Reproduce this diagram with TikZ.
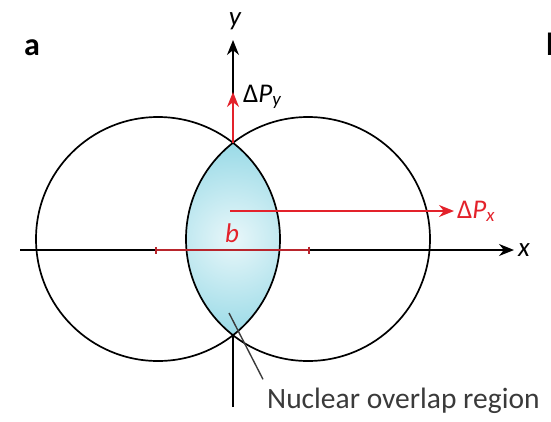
\documentclass[tikz,border=0pt]{standalone}
\usepackage{fontspec}
\setmainfont{Carlito}
\usetikzlibrary{arrows.meta,positioning}
\definecolor{nucred}{HTML}{E3222B}
\definecolor{nucdark}{HTML}{B8252C}
\definecolor{nuccyan}{HTML}{8ED6E4}
\definecolor{nucgray}{HTML}{3A3A3A}
\tikzset{
    nucleus/.style={draw=black,line width=1.7pt},
    axis/.style={draw=black,line width=1.5pt,-{Stealth[length=15pt,width=12pt]}},
    push/.style={draw=nucred,line width=1.9pt,-{Stealth[length=15pt,width=12pt]}},
    impact/.style={draw=nucdark,line width=2.4pt,{Bar[width=7pt]}-{Bar[width=7pt]}},
    leader/.style={draw=nucgray,line width=1.4pt},
    lbl/.style={inner sep=0pt,anchor=base west,font=\fontsize{27}{30}\selectfont},
    panel/.style={lbl,font=\fontsize{32}{34}\selectfont\bfseries},
}
\begin{document}
\begin{tikzpicture}[x=1pt,y=-1pt]
    \useasboundingbox (0,0) rectangle (551,421);
    \coordinate (cl) at (158,239);
    \coordinate (cr) at (308,239);
    \coordinate (top) at (233,142.8);
    \coordinate (mid) at (233,239);
    \coordinate (ybot) at (233,407);
    \coordinate (ytip) at (233,40);
    \coordinate (xbeg) at (20,250);
    \coordinate (xtip) at (514,250);
    \coordinate (bl) at (155,250);
    \coordinate (br) at (310,250);
    \coordinate (px) at (230,211);
    \coordinate (pxtip) at (454,211);
    \coordinate (pytip) at (233,92);
    \coordinate (lead) at (229,313);

    % y axis, hidden inside the overlap
    \path[axis] (ybot) -- (ytip);
    % overlap region
    \begin{scope}
        \clip (cl) circle[radius=122pt];
        \clip (cr) circle[radius=122pt];
        \shade[inner color=nuccyan!20,outer color=nuccyan] (mid) circle[radius=110pt];
    \end{scope}
    \draw[nucleus] (cl) circle[radius=122pt];
    \draw[nucleus] (cr) circle[radius=122pt];

    \path[axis] (xbeg) -- (xtip);
    \path[impact] (bl) -- (br);
    \path[push] (px) -- (pxtip);
    \path[push] (top) -- (pytip);

    \node[panel] (pa) at (24,55) {a};
    \node[panel] (pb) at (546,55) {b};
    \node[lbl,anchor=base] (ylab) at (235,25) {\itshape y};
    \node[lbl] (xlab) at (518,256) {\itshape x};
    \node[lbl] (dpy) at (243,102) {Δ\textit{P}\textsubscript{\itshape y}};
    \node[lbl,text=nucred] (dpx) at (457,218) {Δ\textit{P}\textsubscript{\itshape x}};
    \node[lbl,text=nucred] (blab) at (225,242) {\itshape b};
    \node[lbl,text=nucgray,font=\fontsize{29.5}{32}\selectfont] (nuc) at (267,408) {Nuclear overlap region};

    \path[leader] (lead) -- ([shift={(-4,-8)}]nuc.north west);
\end{tikzpicture}
\end{document}
